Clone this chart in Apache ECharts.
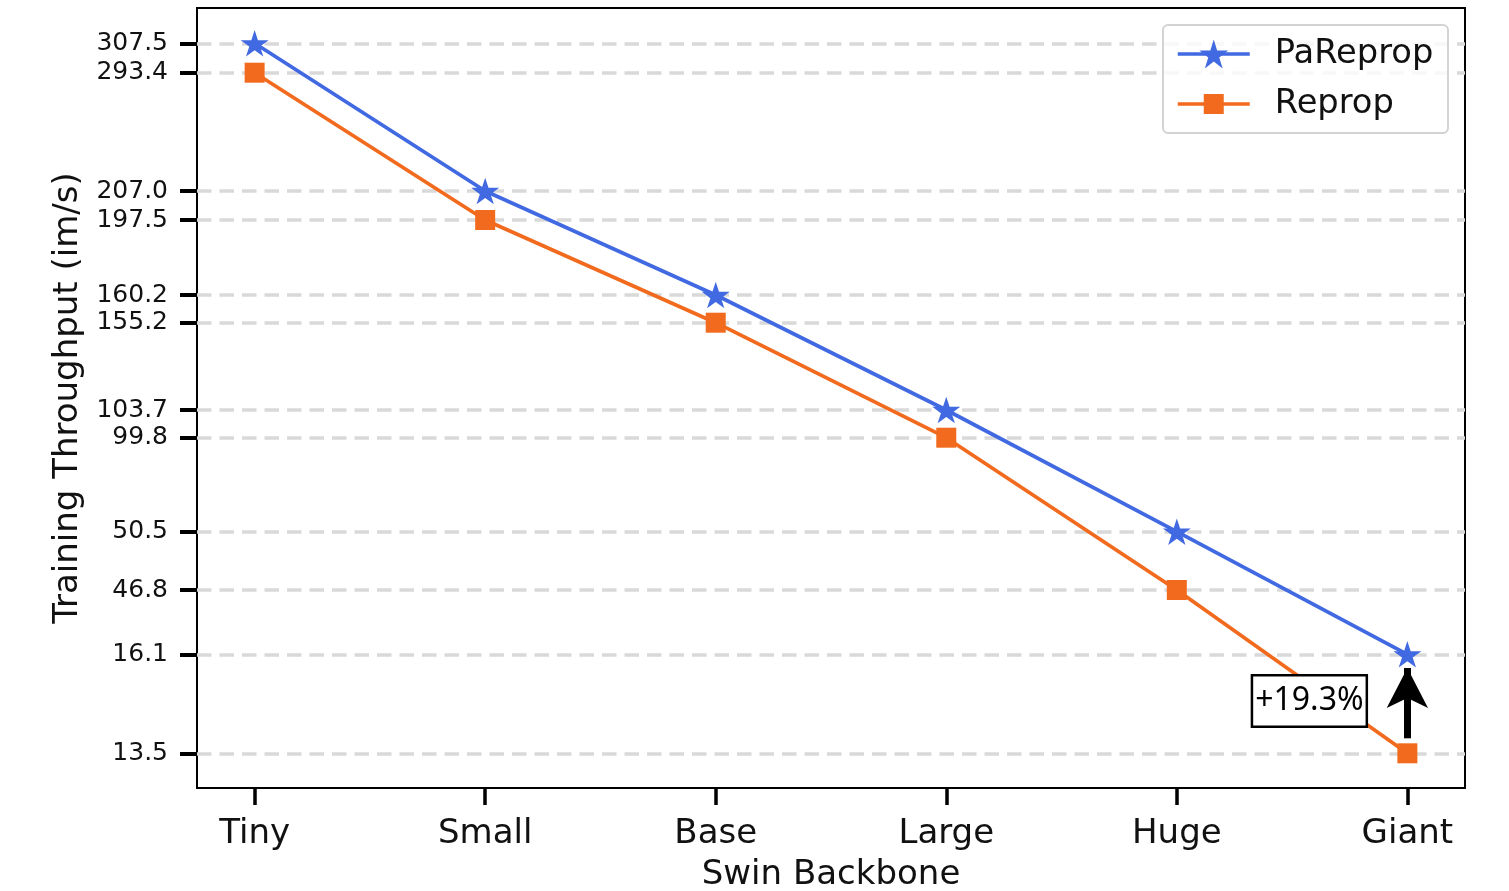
<!DOCTYPE html>
<html>
<head>
<meta charset="utf-8">
<script src="https://cdn.jsdelivr.net/npm/echarts@6/dist/echarts.min.js"></script>
<style>
  html, body { margin: 0; padding: 0; background: #fff; }
  #chart { width: 1509px; height: 891px; }
  .edge { position: absolute; top: 0; width: 1px; height: 891px; background: #f1f1f1; }
</style>
</head>
<body>
<div class="edge" style="left:35px"></div>
<div class="edge" style="left:1483px"></div>
<div id="chart"></div>
<script>
// ---- data ----
const categories = ['Tiny', 'Small', 'Base', 'Large', 'Huge', 'Giant'];
const pareprop = [307.5, 207.0, 160.2, 103.7, 50.5, 16.1];
const reprop = [293.4, 197.5, 155.2, 99.8, 46.8, 13.5];
// y tick labels (values) and their positions on the custom (non-linear) axis
const tickValues = [13.5, 16.1, 46.8, 50.5, 99.8, 103.7, 155.2, 160.2, 197.5, 207.0, 293.4, 307.5];
const tickLabels = ['13.5', '16.1', '46.8', '50.5', '99.8', '103.7', '155.2', '160.2', '197.5', '207.0', '293.4', '307.5'];
const tickPos = [34.7, 133.7, 198, 256.3, 350.3, 378, 465.3, 493, 568, 597, 715.3, 744.7];
const annotationText = '+19.3%';

// custom scale: piecewise linear between tick anchors
function toPos(v) {
  for (let i = 0; i < tickValues.length - 1; i++) {
    const a = tickValues[i], b = tickValues[i + 1];
    if (v >= a && v <= b) {
      return tickPos[i] + (v - a) / (b - a) * (tickPos[i + 1] - tickPos[i]);
    }
  }
  return v < tickValues[0] ? tickPos[0] : tickPos[tickPos.length - 1];
}

const STAR = 'path://M100 0 L77.55 69.1 L4.89 69.1 L63.67 111.8 L41.22 180.9 L100 138.2 L158.78 180.9 L136.33 111.8 L195.11 69.1 L122.45 69.1 Z';
const BLUE = '#4169E1';
const ORANGE = '#F26A1E';
const FONT = 'DejaVu Sans';

const chart = echarts.init(document.getElementById('chart'), null, { renderer: 'canvas' });

const last = categories.length - 1;
const legendText = { fontFamily: FONT, fontSize: 33.7, color: '#111', lineHeight: 34, padding: [0, 0, 0, 20] };
const option = {
  animation: false,
  backgroundColor: '#fff',
  grid: { left: 197, right: 44, top: 8, bottom: 103, outerBoundsMode: 'none', containLabel: false,
    show: true, borderColor: '#000', borderWidth: 2, backgroundColor: 'transparent' },
  xAxis: {
    type: 'value', min: -0.25, max: last + 0.25,
    axisLine: { show: false, onZero: false },
    splitLine: { show: false },
    axisTick: { show: true, customValues: categories.map((c, i) => i), length: 17, lineStyle: { color: '#000', width: 3.5 } },
    axisLabel: { customValues: categories.map((c, i) => i), formatter: v => categories[Math.round(v)], fontFamily: FONT, fontSize: 34, color: '#111', margin: 29 },
    name: 'Swin Backbone', nameLocation: 'middle', nameGap: 70,
    nameTextStyle: { fontFamily: FONT, fontSize: 34, color: '#111' }
  },
  yAxis: {
    type: 'value', min: 0, max: 780,
    axisLine: { show: false, onZero: false },
    splitLine: { show: false },
    axisTick: { show: true, customValues: tickPos, length: 17, lineStyle: { color: '#000', width: 4 } },
    axisLabel: { customValues: tickPos, formatter: v => { const i = tickPos.indexOf(v); return i >= 0 ? tickLabels[i] : ''; }, fontFamily: FONT, fontSize: 25, color: '#111', margin: 29 },
    name: 'Training Throughput (im/s)', nameLocation: 'middle', nameGap: 112, nameRotate: 90,
    nameTextStyle: { fontFamily: FONT, fontSize: 34, color: '#111' }
  },
  graphic: [{
    type: 'rect', z: 3, silent: true,
    shape: { x: 1163, y: 25, width: 285, height: 108, r: 5 },
    style: { fill: 'rgba(255,255,255,0.8)', stroke: '#d3d3d3', lineWidth: 2 }
  }],
  legend: [
    { data: ['PaReprop'], left: 1176, top: 37, padding: 0, itemWidth: 72, itemHeight: 36, z: 5,
      lineStyle: { width: 3.5 }, textStyle: legendText },
    { data: ['Reprop'], left: 1176, top: 87, padding: 0, itemWidth: 72, itemHeight: 25, z: 5,
      lineStyle: { width: 3.5 }, textStyle: legendText }
  ],
  series: [
    {
      name: 'grid', type: 'line', data: [], z: 1, silent: true,
      markLine: {
        silent: true, z: 1, symbol: ['none', 'none'], label: { show: false },
        lineStyle: { type: [14.5, 8], color: '#d9d9d9', width: 3.5 },
        data: tickPos.map(p => ({ yAxis: p }))
      }
    },
    {
      name: 'Reprop', type: 'line', z: 3,
      data: reprop.map((v, i) => [i, toPos(v)]),
      symbol: 'rect', symbolSize: 20,
      lineStyle: { color: ORANGE, width: 3.7 },
      itemStyle: { color: ORANGE },
      markPoint: {
        silent: true, symbol: 'rect', symbolSize: 0, z: 6,
        label: { show: true, position: 'inside', formatter: annotationText, fontFamily: 'Noto Sans', fontSize: 32, color: '#000',
          backgroundColor: '#fff', borderColor: '#000', borderWidth: 2.5, padding: [3, 2, 2, 2], lineHeight: 44 },
        data: [{ coord: [4.575, 87] }]
      }
    },
    {
      name: 'PaReprop', type: 'line', z: 4,
      data: pareprop.map((v, i) => [i, toPos(v)]),
      symbol: STAR, symbolSize: [28, 26.6], symbolKeepAspect: false,
      lineStyle: { color: BLUE, width: 3.7 },
      itemStyle: { color: BLUE },
      markLine: {
        silent: true, z: 6, label: { show: false },
        lineStyle: { color: '#000', width: 7, type: 'solid' },
        data: [[
          { coord: [last, toPos(reprop[last]) + 15], symbol: 'none' },
          { coord: [last, toPos(pareprop[last]) - 13.7], symbol: 'arrow', symbolSize: [31, 40] }
        ]]
      }
    }
  ]
};
chart.setOption(option);
</script>
</body>
</html>
